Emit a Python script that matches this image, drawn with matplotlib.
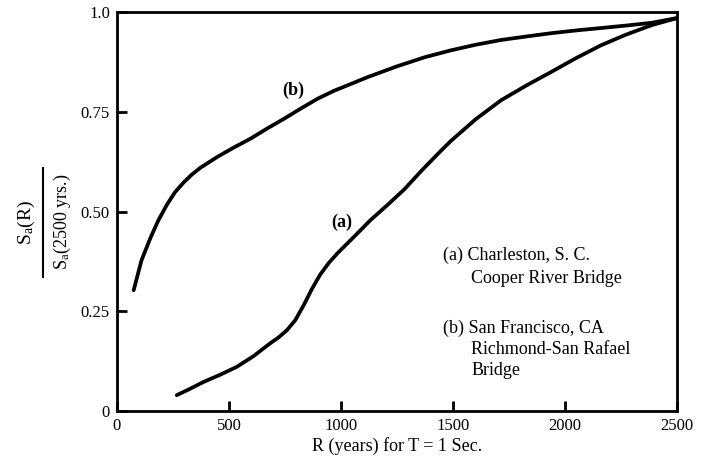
import numpy as np
import matplotlib
matplotlib.use('Agg')
import matplotlib.pyplot as plt
from matplotlib.lines import Line2D

plt.rcParams['font.family'] = ['Liberation Serif', 'DejaVu Serif']
plt.rcParams['mathtext.fontset'] = 'custom'
plt.rcParams['mathtext.rm'] = 'Liberation Serif'
plt.rcParams['mathtext.it'] = 'Liberation Serif'

# curve (a) Charleston
r_a = [267, 330, 386, 460, 535, 610, 684, 722, 759, 796, 834, 870, 908, 945, 983, 1060, 1132,
       1210, 1281, 1360, 1445, 1490, 1600, 1714, 1830, 1938, 2050, 2161, 2270, 2385, 2500]
s_a = [0.04, 0.057, 0.073, 0.091, 0.111, 0.138, 0.17, 0.185, 0.203, 0.228, 0.266, 0.306,
       0.343, 0.371, 0.395, 0.438, 0.479, 0.518, 0.555, 0.603, 0.652, 0.677, 0.731, 0.779,
       0.817, 0.85, 0.885, 0.917, 0.943, 0.967, 0.985]

# curve (b) San Francisco
r_b = [75, 110, 149, 185, 224, 260, 298, 335, 373, 448, 520, 597, 670, 747, 820, 896,
       970, 1045, 1119, 1250, 1375, 1490, 1600, 1714, 1830, 1938, 2050, 2161, 2270, 2385, 2500]
s_b = [0.303, 0.378, 0.433, 0.478, 0.518, 0.549, 0.573, 0.593, 0.61, 0.637, 0.66, 0.683,
       0.708, 0.733, 0.758, 0.783, 0.803, 0.82, 0.837, 0.864, 0.887, 0.904, 0.918, 0.93,
       0.939, 0.947, 0.954, 0.96, 0.966, 0.973, 0.985]

xticks = [0, 500, 1000, 1500, 2000, 2500]
yticks = [0, 0.25, 0.5, 0.75, 1.0]
ytick_labels = ['0', '0.25', '0.50', '0.75', '1.0']

fig = plt.figure(figsize=(7.04, 4.63), dpi=100)
ax = fig.add_axes([0.166, 0.112, 0.796, 0.862])

ax.plot(r_a, s_a, color='k', lw=2.7, solid_capstyle='round', solid_joinstyle='round')
ax.plot(r_b, s_b, color='k', lw=2.7, solid_capstyle='round', solid_joinstyle='round')

ax.set_xlim(0, 2500)
ax.set_ylim(0, 1.0)
ax.set_xticks(xticks)
ax.set_yticks(yticks)
ax.set_yticklabels(ytick_labels)
ax.tick_params(direction='in', length=7, width=2, labelsize=12, pad=5)
for sp in ax.spines.values():
    sp.set_linewidth(2)

ax.set_xlabel('R (years) for T = 1 Sec.', fontsize=13, labelpad=2)

# curve labels
ax.text(788, 0.805, '(b)', fontsize=13, fontweight='bold', ha='center', va='center')
ax.text(1003, 0.474, '(a)', fontsize=13, fontweight='bold', ha='center', va='center')

# legend-style notes
notes = [
    (1455, 0.39, '(a) Charleston, S. C.'),
    (1580, 0.332, 'Cooper River Bridge'),
    (1455, 0.207, '(b) San Francisco, CA'),
    (1580, 0.155, 'Richmond-San Rafael'),
    (1580, 0.103, 'Bridge'),
]
for x, y, t in notes:
    ax.text(x, y, t, fontsize=13, ha='left', va='center')

# y-axis label as fraction
fig.text(26 / 704, 1 - 223 / 463, r'S$_\mathrm{a}$(R)', rotation=90, fontsize=14,
         ha='center', va='center')
fig.text(62 / 704, 1 - 222 / 463, r'S$_\mathrm{a}$(2500 yrs.)', rotation=90, fontsize=13,
         ha='center', va='center')
fig.add_artist(Line2D([43 / 704, 43 / 704], [1 - 168 / 463, 1 - 277 / 463],
                      color='k', lw=1.5, transform=fig.transFigure))

fig.savefig('out.png', dpi=100)
